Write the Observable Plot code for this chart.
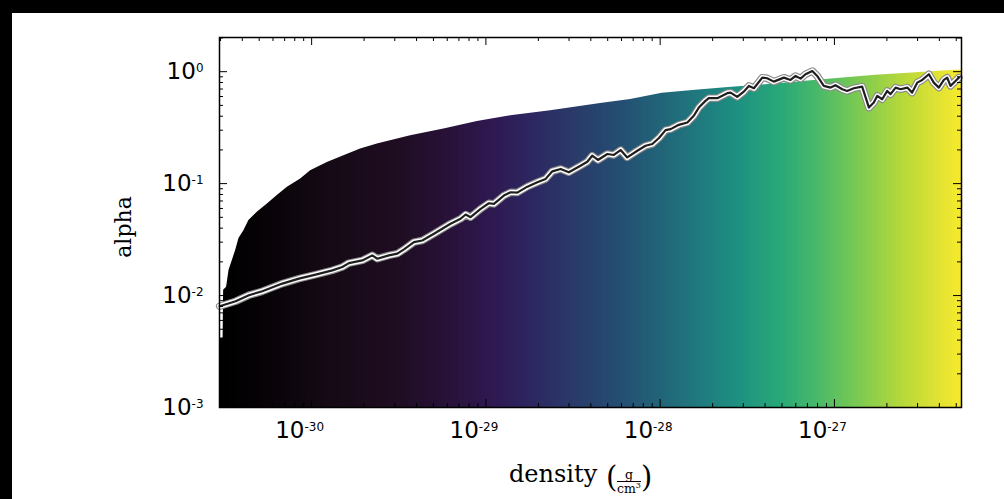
<!DOCTYPE html>
<html><head><meta charset="utf-8">
<script src="https://cdn.jsdelivr.net/npm/d3@7"></script>
<script src="https://cdn.jsdelivr.net/npm/@observablehq/plot@0.6"></script>
<style>
html,body{margin:0;padding:0;background:#000;width:1004px;height:499px;overflow:hidden}
#fig{position:absolute;left:12px;top:13px;right:0;bottom:0;background:#fff;overflow:hidden}
#fig svg{position:absolute;left:0;top:0;z-index:1}
#ylabel{position:absolute;z-index:2;font-family:"DejaVu Serif";font-size:22px;line-height:22px;left:112px;top:214px;transform:translate(-50%,-50%) rotate(-90deg);white-space:nowrap;color:#000}
#xlabel{position:absolute;z-index:2;font-family:"DejaVu Serif";font-size:24px;line-height:24px;left:497px;top:449px;white-space:nowrap;color:#000}
#xlabel span{position:absolute;top:0}
#xlabel .word{left:0}
#xlabel .paren{font-size:29px;line-height:29px;top:1px}
#xlabel .frac{display:flex;flex-direction:column;align-items:center;font-size:12.5px;line-height:13px;top:6px}
#xlabel .frac span{position:static}
#xlabel .num{border-bottom:1px solid #000;padding:0 3px;text-align:center;align-self:stretch}
#xlabel sup{font-size:8px;line-height:0}
</style>
</head><body>
<div id="fig">
<div id="ylabel">alpha</div>
<div id="xlabel"><span class="word">density</span><span class="paren" style="left:97px">(</span><span class="frac" style="left:108px"><span class="num">g</span><span class="den">cm<sup>3</sup></span></span><span class="paren" style="left:132px">)</span></div>
</div>
<script>
// ---- data ----
const xMajorTicks = [1e-30, 1e-29, 1e-28, 1e-27];
const yMajorTicks = [1e-3, 1e-2, 1e-1, 1];
const xDomain = [2.96e-31, 5.36e-27];
const yDomain = [1e-3, 2.02];

// line: [log10 density, alpha]
const lineSeries = [
[-30.528,0.00803],[-30.436,0.00890],[-30.360,0.01007],[-30.283,0.01092],[-30.168,0.01279],[-30.073,0.01417],
[-29.977,0.01538],[-29.881,0.01680],[-29.824,0.01798],[-29.786,0.01950],[-29.709,0.02061],[-29.652,0.02285],
[-29.623,0.02134],[-29.557,0.02285],[-29.508,0.02366],[-29.470,0.02584],[-29.413,0.03000],[-29.365,0.03105],
[-29.298,0.03565],[-29.203,0.04375],[-29.145,0.04853],[-29.116,0.05297],[-29.088,0.05012],[-29.030,0.05954],
[-28.983,0.06681],[-28.954,0.06592],[-28.897,0.07816],[-28.858,0.08370],[-28.820,0.08318],[-28.762,0.09398],
[-28.705,0.1028],[-28.657,0.1102],[-28.619,0.1288],[-28.571,0.1352],[-28.524,0.1262],[-28.457,0.1446],
[-28.418,0.1570],[-28.390,0.1775],[-28.357,0.1626],[-28.303,0.1838],[-28.266,0.1803],[-28.227,0.1995],
[-28.189,0.1715],[-28.131,0.1968],[-28.084,0.2178],[-28.045,0.2259],[-28.007,0.2553],[-27.969,0.3006],
[-27.940,0.3069],[-27.893,0.3350],[-27.844,0.3516],[-27.807,0.4036],[-27.778,0.4777],[-27.740,0.5484],
[-27.721,0.5796],[-27.672,0.5796],[-27.615,0.6427],[-27.596,0.6501],[-27.558,0.5954],[-27.520,0.6637],
[-27.491,0.7464],[-27.462,0.7112],[-27.414,0.8846],[-27.386,0.8730],[-27.348,0.8147],[-27.290,0.8846],
[-27.252,0.8435],[-27.223,0.9160],[-27.194,0.8670],[-27.166,0.9481],[-27.127,1.014],[-27.099,0.9160],
[-27.061,0.7464],[-27.022,0.7208],[-26.994,0.7568],[-26.955,0.6970],[-26.927,0.6730],[-26.889,0.7112],
[-26.841,0.7348],[-26.802,0.4777],[-26.774,0.5297],[-26.754,0.6081],[-26.726,0.5675],[-26.697,0.6730],
[-26.678,0.6295],[-26.649,0.7208],[-26.621,0.6970],[-26.582,0.7208],[-26.554,0.6501],[-26.525,0.7980],
[-26.496,0.8435],[-26.458,0.9481],[-26.430,0.7980],[-26.401,0.7208],[-26.372,0.8435],[-26.353,0.8846],
[-26.334,0.7464],[-26.305,0.8260],[-26.286,0.8846]
];

// upper edge of the coloured region: [log10 density, alpha]
const edgeSeries = [
[-30.528,0.00417],[-30.508,0.00417],[-30.505,0.01114],[-30.488,0.01186],[-30.474,0.01680],[-30.455,0.02061],
[-30.436,0.02531],[-30.417,0.03236],[-30.388,0.03816],[-30.360,0.04677],[-30.312,0.05550],[-30.254,0.06592],
[-30.197,0.07816],[-30.139,0.09270],[-30.063,0.1102],[-30.006,0.1306],[-29.910,0.1548],[-29.815,0.1775],
[-29.719,0.2037],[-29.623,0.2259],[-29.432,0.2675],[-29.241,0.3069],[-29.049,0.3589],[-28.858,0.4036],
[-28.629,0.4467],[-28.342,0.5210],[-28.170,0.5655],[-27.988,0.6427],[-27.797,0.6830],[-27.608,0.7208],
[-27.414,0.7616],[-27.051,0.8525],[-26.764,0.9290],[-26.575,0.9683],[-26.381,1.014],[-26.271,1.035]
];

// colormap (position along log-density range -> colour)
const cmapPos = [0, 0.055, 0.15, 0.244, 0.311, 0.365, 0.419, 0.473, 0.54, 0.594, 0.648, 0.702, 0.756, 0.81, 0.864, 0.918, 0.972, 1];
const cmapHex = ["#000000","#060206","#150a15","#1f0d22","#28123a","#2e1850","#2d2660","#2a3868","#244e72","#216478","#1f7a7e","#1d9281","#28a878","#4cba68","#7ecb50","#b4d83a","#e3e333","#f7e92c"];

// ---- build ----
const lineData = lineSeries.map(([l, a]) => ({d: 10 ** l, a}));
const edgeData = edgeSeries.map(([l, a]) => ({d: 10 ** l, a}));
const cmap = d3.scaleLinear().domain(cmapPos).range(cmapHex).interpolate(d3.interpolateRgb).clamp(true);

const L0 = Math.log10(xDomain[0]), L1 = Math.log10(xDomain[1]);
const nBins = 250;
const bins = d3.range(nBins).map(i => ({
  x1: 10 ** (L0 + (L1 - L0) * i / nBins),
  x2: 10 ** (L0 + (L1 - L0) * (i + 1) / nBins),
  c: 10 ** (L0 + (L1 - L0) * (i + 0.5) / nBins)
}));

function minorTicks(domain) {
  const out = [];
  const e0 = Math.floor(Math.log10(domain[0])), e1 = Math.ceil(Math.log10(domain[1]));
  for (let e = e0; e <= e1; e++) for (let k = 2; k <= 9; k++) {
    const v = k * Math.pow(10, e);
    if (v > domain[0] && v < domain[1]) out.push(v);
  }
  return out;
}
const xMinor = minorTicks(xDomain), yMinor = minorTicks(yDomain);

const W = 992, H = 486, mL = 207, mR = 43, mT = 24, mB = 92;
const iW = W - mL - mR, iH = H - mT - mB;
const fmt = d => "10^" + Math.round(Math.log10(d));

const plot = Plot.plot({
  width: W, height: H,
  marginLeft: mL, marginRight: mR, marginTop: mT, marginBottom: mB,
  style: {fontFamily: "DejaVu Sans", fontSize: "23px", color: "#000", background: "transparent", overflow: "visible"},
  x: {type: "log", domain: xDomain},
  y: {type: "log", domain: yDomain},
  color: {type: "log", domain: xDomain, interpolate: t => cmap(t)},
  marks: [
    Plot.rect(bins, {x1: "x1", x2: "x2", y1: () => yDomain[0], y2: () => yDomain[1], fill: "c", shapeRendering: "crispEdges"}),
    Plot.areaY(edgeData, {x: "d", y1: "a", y2: () => yDomain[1], fill: "#fff"}),
    Plot.line(lineData, {x: "d", y: "a", stroke: "#8a8a8a", strokeWidth: 7.5, strokeLinejoin: "round"}),
    Plot.line(lineData, {x: "d", y: "a", stroke: "#ffffff", strokeWidth: 5.2, strokeLinejoin: "round"}),
    Plot.line(lineData, {x: "d", y: "a", stroke: "#1e1e1e", strokeWidth: 2.2, strokeLinejoin: "round"}),
    Plot.ruleX(xMajorTicks, {x: d => d, insetTop: iH - 8, stroke: "#000"}),
    Plot.ruleX(xMajorTicks, {x: d => d, insetBottom: iH - 8, stroke: "#000"}),
    Plot.ruleX(xMinor, {x: d => d, insetTop: iH - 4, stroke: "#000"}),
    Plot.ruleX(xMinor, {x: d => d, insetBottom: iH - 4, stroke: "#000"}),
    Plot.ruleY(yMajorTicks, {y: d => d, insetRight: iW - 8, stroke: "#000"}),
    Plot.ruleY(yMajorTicks, {y: d => d, insetLeft: iW - 8, stroke: "#000"}),
    Plot.ruleY(yMinor, {y: d => d, insetRight: iW - 4, stroke: "#000"}),
    Plot.ruleY(yMinor, {y: d => d, insetLeft: iW - 4, stroke: "#000"}),
    Plot.frame({stroke: "#000", strokeWidth: 1.5}),
    Plot.axisX(xMajorTicks, {tickSize: 0, tickPadding: 14, dx: -12, tickFormat: fmt, label: null}),
    Plot.axisY(yMajorTicks, {tickSize: 0, tickPadding: 16, tickFormat: fmt, label: null})
  ]
});
const fig = document.getElementById("fig");
fig.insertBefore(plot, fig.firstChild);

// superscripts for the tick labels
const NS = "http://www.w3.org/2000/svg";
plot.querySelectorAll("text").forEach(t => {
  const m = /^10\^(-?\d+)$/.exec(t.textContent);
  if (m) {
    t.textContent = "10";
    const ts = document.createElementNS(NS, "tspan");
    ts.setAttribute("dy", "-0.55em");
    ts.setAttribute("font-size", "0.52em");
    ts.textContent = m[1];
    t.appendChild(ts);
  }
});
</script>
</body></html>
